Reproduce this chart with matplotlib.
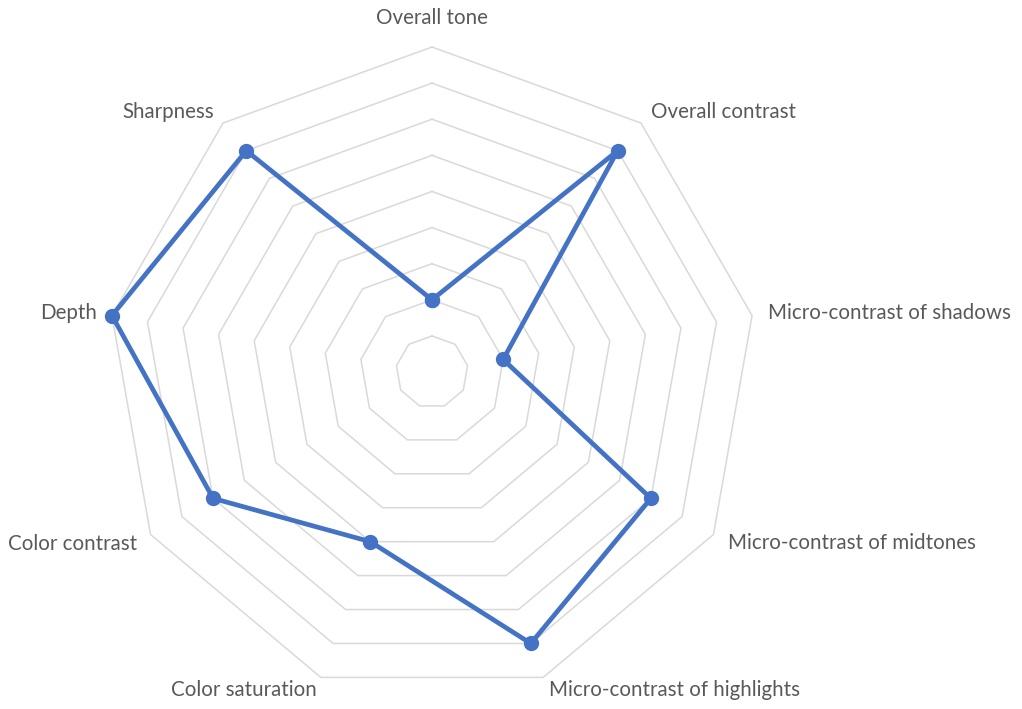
import numpy as np
import matplotlib
matplotlib.use("Agg")
import matplotlib.pyplot as plt

categories = ["Overall tone", "Overall contrast", "Micro-contrast of shadows",
              "Micro-contrast of midtones", "Micro-contrast of highlights",
              "Color saturation", "Color contrast", "Depth", "Sharpness"]
values = [2, 8, 2, 7, 8, 5, 7, 9, 8]
ring_levels = [1, 2, 3, 4, 5, 6, 7, 8, 9]
r_max = 9

plt.rcParams['font.family'] = ['Lato', 'DejaVu Sans']

W, H = 1022, 709
fig = plt.figure(figsize=(W / 100, H / 100), dpi=100)
cx, cy, R = 432, 372, 325
ax = fig.add_axes([(cx - R) / W, (H - cy - R) / H, 2 * R / W, 2 * R / H], projection='polar')
ax.set_theta_offset(np.pi / 2)
ax.set_theta_direction(-1)
ax.set_ylim(0, r_max)
ax.grid(False)
ax.set_xticks([])
ax.set_yticks([])
ax.spines['polar'].set_visible(False)
ax.patch.set_alpha(0)

n = len(categories)
theta = np.linspace(0, 2 * np.pi, n, endpoint=False)
theta_c = np.append(theta, theta[0])

for lvl in ring_levels:
    ax.plot(theta_c, [lvl] * (n + 1), color='#D9D9D9', lw=1.1, zorder=1, clip_on=False)

vals_c = values + values[:1]
ax.plot(theta_c, vals_c, color='#4472C4', lw=3.4, marker='o', markersize=10,
        zorder=3, clip_on=False)

# label placement (pixel offsets from outer vertex)
offsets = {
    0: (0, 29, 'center', 'center'),
    1: (10, 11, 'left', 'center'),
    2: (16, 3, 'left', 'center'),
    3: (15, -9, 'left', 'center'),
    4: (6, -13, 'left', 'center'),
    5: (-4, -13, 'right', 'center'),
    6: (-13, -9, 'right', 'center'),
    7: (-15, 3, 'right', 'center'),
    8: (-9, 11, 'right', 'center'),
}
for i, lab in enumerate(categories):
    dx, dy, ha, va = offsets[i]
    ax.annotate(lab, xy=(theta[i], r_max), xytext=(dx * 0.72, dy * 0.72),
                textcoords='offset points', ha=ha, va=va, fontsize=14.8,
                color='#595959', annotation_clip=False)

fig.savefig('out.png', dpi=100, facecolor='white')
